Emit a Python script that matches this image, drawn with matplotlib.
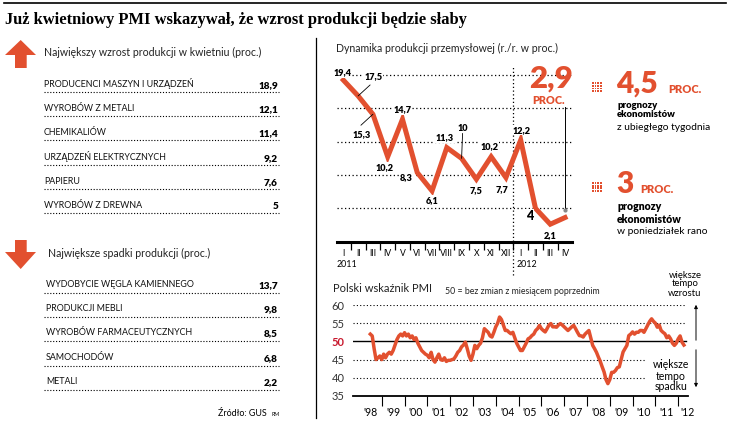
import numpy as np
import matplotlib
matplotlib.use('Agg')
import matplotlib.pyplot as plt
from matplotlib.lines import Line2D
from matplotlib.patches import Polygon, Rectangle, FancyArrowPatch

plt.rcParams['font.family'] = ['Lato', 'DejaVu Sans']

RED = '#e2502f'
DARK_RED = '#c8192e'
W, H = 730, 426

# --- data -------------------------------------------------------------
growth_labels = ['PRODUCENCI MASZYN I URZĄDZEŃ', 'WYROBÓW Z METALI', 'CHEMIKALIÓW',
                 'URZĄDZEŃ ELEKTRYCZNYCH', 'PAPIERU', 'WYROBÓW Z DREWNA']
growth_values = ['18,9', '12,1', '11,4', '9,2', '7,6', '5']

decline_labels = ['WYDOBYCIE WĘGLA KAMIENNEGO', 'PRODUKCJI MEBLI',
                  'WYROBÓW FARMACEUTYCZNYCH', 'SAMOCHODÓW', 'METALI']
decline_values = ['13,7', '9,8', '8,5', '6,8', '2,2']

months = ['I', 'II', 'III', 'IV', 'V', 'VI', 'VII', 'VIII', 'IX', 'X', 'XI', 'XII',
          'I', 'II', 'III', 'IV']
production = [19.4, 17.5, 15.3, 10.2, 14.7, 8.3, 6.1, 11.3, 10.0, 7.5, 10.2, 7.7,
              12.2, 4.0, 2.1, 2.9]
production_labels = ['19,4', '17,5', '15,3', '10,2', '14,7', '8,3', '6,1', '11,3',
                     '10', '7,5', '10,2', '7,7', '12,2', '4', '2,1', None]

forecast_values = ['4,5', '3']
forecast_notes = ['z ubiegłego tygodnia', 'w poniedziałek rano']

# monthly PMI, July 1998 - April 2012
pmi = [
    52.0, 51.5, 48.0, 45.0, 45.5, 46.0,                                # 1998
    45.0, 46.5, 45.5, 46.5, 47.0, 46.5, 47.5, 49.0, 50.5, 51.5, 52.0, 51.5,  # 1999
    52.4, 51.5, 52.0, 51.0, 51.5, 50.5, 51.0, 49.5, 48.5, 47.5, 47.0, 46.5,  # 2000
    46.2, 45.5, 47.0, 45.0, 44.3, 45.5, 46.5, 45.0, 44.8, 45.5, 44.5, 44.8,  # 2001
    44.8, 45.0, 45.2, 46.0, 47.0, 47.5, 48.5, 49.0, 49.8, 48.0, 46.0, 44.8,  # 2002
    46.5, 48.9, 48.0, 48.9, 49.5, 51.0, 53.5, 53.0, 52.5, 51.5, 51.2, 52.5,  # 2003
    54.0, 55.0, 56.7, 56.0, 54.5, 53.0, 53.0, 52.5, 52.1, 52.5, 51.0, 49.5,  # 2004
    48.5, 47.5, 47.5, 48.5, 49.5, 50.7, 51.0, 51.6, 52.0, 53.0, 53.5, 54.4,  # 2005
    53.5, 53.0, 52.6, 53.5, 54.5, 54.9, 54.0, 54.0, 53.9, 54.5, 54.9, 54.5,  # 2006
    54.0, 53.5, 53.0, 53.5, 54.0, 54.4, 53.5, 52.5, 51.6, 51.5, 51.2, 52.0,  # 2007
    52.5, 53.0, 51.0, 48.9, 48.0, 47.0, 45.7, 44.5, 43.0, 41.6, 39.5, 38.4,  # 2008
    39.5, 41.5, 41.5, 42.0, 42.8, 43.0, 45.0, 47.1, 48.0, 48.9, 51.6, 52.0,  # 2009
    52.6, 52.0, 52.5, 52.5, 53.0, 53.0, 52.5, 53.5, 54.5, 55.5, 56.2, 55.5,  # 2010
    55.0, 53.9, 54.5, 53.0, 52.5, 52.1, 51.0, 51.5, 50.7, 49.5, 48.9, 49.5,  # 2011
    50.7, 51.5, 49.8, 49.0,                                            # 2012
]
pmi_start = 1998.5
pmi_years = ["'98", "'99", "'00", "'01", "'02", "'03", "'04", "'05", "'06",
             "'07", "'08", "'09", "'10", "'11", "'12"]


def fxy(x, y):
    return x / W, 1 - y / H


def ftext(x, y, s, **kw):
    fig.text(x / W, 1 - y / H, s, **kw)


def fline(xs, ys, **kw):
    fig.add_artist(Line2D([x / W for x in xs], [1 - y / H for y in ys],
                          transform=fig.transFigure, **kw))


def fpoly(pts, **kw):
    fig.add_artist(Polygon([fxy(x, y) for x, y in pts], closed=True,
                           transform=fig.transFigure, **kw))


fig = plt.figure(figsize=(7.3, 4.26), dpi=100)

# --- header -----------------------------------------------------------
fline([4, 726], [3, 3], color='black', lw=1.2)
ftext(5, 20, 'Już kwietniowy PMI wskazywał, że wzrost produkcji będzie słaby',
      family=['Liberation Serif', 'DejaVu Serif'], weight='bold', fontsize=11.9,
      va='center', ha='left')
fline([316, 316], [38, 418], color='black', lw=0.9)

# --- left panel -------------------------------------------------------
fpoly([(5, 55), (20.7, 40), (36, 55), (26.7, 55), (26.7, 68), (15, 68), (15, 55)],
      color=RED, lw=0)
ftext(44, 52, 'Największy wzrost produkcji w kwietniu (proc.)', fontsize=7.6,
      va='center', color='#222222')
dot = (0, (1, 1.6))
for i, (lab, val) in enumerate(zip(growth_labels, growth_values)):
    yl = 90 + i * 24.2
    ftext(44, yl - 3, lab, fontsize=6.4, va='baseline', color='#111111')
    ftext(278, yl - 2, val, fontsize=7.2, weight='heavy', va='baseline', ha='right')
    fline([44, 279], [yl + 2, yl + 2], color='black', lw=0.8, ls=dot)

fpoly([(15, 240), (26.7, 240), (26.7, 252), (36, 252), (20.7, 269), (5, 252), (15, 252)],
      color=RED, lw=0)
ftext(48, 253, 'Największe spadki produkcji (proc.)', fontsize=7.6,
      va='center', color='#222222')
for i, (lab, val) in enumerate(zip(decline_labels, decline_values)):
    yl = 290 + i * 24.2
    ftext(46, yl - 3, lab, fontsize=6.4, va='baseline', color='#111111')
    ftext(278, yl - 2, val, fontsize=7.2, weight='heavy', va='baseline', ha='right')
    fline([44, 279], [yl + 3, yl + 3], color='black', lw=0.8, ls=dot)

ftext(267, 413, 'Źródło: GUS', fontsize=6.4, ha='right', va='center')
ftext(272, 414, 'RM', fontsize=3.8, ha='left', va='center')

# --- production chart -------------------------------------------------
y0, ppu = 241.7, 8.33
ax1 = fig.add_axes([336.7 / W, 1 - y0 / H, 235 / W, 21 * ppu / H])
x = np.arange(len(production))
ax1.set_xlim(-0.45, 15.45)
ax1.set_ylim(0, 21)
for g in [4, 8, 12, 16, 20]:
    ax1.axhline(g, color='black', lw=0.9, ls=(0, (1, 2)), zorder=1)
ax1.plot([11.5, 11.5], [-4.0, 21], color='black', lw=0.9, ls=(0, (1, 2)),
         clip_on=False, zorder=1)
ax1.plot(x, production, color=RED, lw=3.6, solid_joinstyle='miter', zorder=3)

offsets = [(-1, -8), (15, -19), (-11, 20), (-3, 11), (0, -10), (-11, 5), (0, 10),
           (-2, -10), (1, -30), (0, 11), (-2, -10), (-4, 12), (1, -10), (-6, 8),
           (0, 11), (0, 0)]
for xi, yi, lab, (dx, dy) in zip(x, production, production_labels, offsets):
    if lab is None:
        continue
    big = lab == '4'
    ax1.annotate(lab, (xi, yi), xytext=(dx, -dy), textcoords='offset pixels',
                 ha='center', va='center', fontsize=9 if big else 6.6,
                 weight='heavy', zorder=4,
                 bbox=dict(boxstyle='square,pad=0.1', fc='white', ec='none'))
# leader lines
ax1.annotate('', (1, production[1]), xytext=(12, 11), textcoords='offset pixels',
             arrowprops=dict(arrowstyle='-', lw=0.6, color='black', shrinkA=0, shrinkB=0),
             zorder=5)
ax1.annotate('', (2, production[2]), xytext=(-12, -11), textcoords='offset pixels',
             arrowprops=dict(arrowstyle='-', lw=0.6, color='black', shrinkA=0, shrinkB=0),
             zorder=5)
ax1.annotate('', (8, production[8]), xytext=(1, 25), textcoords='offset pixels',
             arrowprops=dict(arrowstyle='-', lw=0.6, color='black', shrinkA=0, shrinkB=0),
             zorder=5)
# pointer from the big number to the last month
ax1.plot([15, 15], [3.8, 16.2], color='black', lw=0.7, zorder=5)
ax1.plot([15], [3.8], marker='o', ms=2, color='#888888', zorder=5)

ax1.set_yticks([])
ax1.set_xticks(x)
ax1.set_xticklabels(months, fontsize=6.2)
ax1.set_xticks(np.arange(0.5, 15), minor=True)
ax1.tick_params(axis='x', which='major', length=0, pad=5)
ax1.tick_params(axis='x', which='minor', length=6, width=0.9, direction='out')
for s in ['top', 'left', 'right']:
    ax1.spines[s].set_visible(False)
ax1.spines['bottom'].set_linewidth(2.2)
ax1.text(-0.45, -2.7, '2011', fontsize=6.4, ha='left', va='center')
ax1.text(11.7, -2.7, '2012', fontsize=6.4, ha='left', va='center')

ftext(336, 48, 'Dynamika produkcji przemysłowej (r./r. w proc.)', fontsize=7.6,
      va='center', color='#222222')
ftext(551, 79, '2,9', fontsize=22.5, weight='heavy', color=RED, ha='center', va='center')
ftext(549, 101, 'PROC.', fontsize=7.8, weight='heavy', color=RED, ha='center', va='center')

# --- forecasts --------------------------------------------------------
for (fy0, val, note, big) in [(93, forecast_values[0], forecast_notes[0], False),
                              (193, forecast_values[1], forecast_notes[1], True)]:
    for r in range(4):
        for c in range(4):
            fig.add_artist(Rectangle(fxy(592 + c * 2.6, fy0 - 9 + r * 2.6), 1.7 / W, 1.7 / H,
                                     transform=fig.transFigure, color=RED, lw=0))
    fig.text(616 / W, 1 - fy0 / H, val, fontsize=21.5, weight='heavy', color=RED,
             ha='left', va='baseline')
    px = 668 if val == '4,5' else 640
    ftext(px, fy0, 'PROC.', fontsize=8, weight='heavy', color=RED, va='baseline')
    fs = 7.6 if big else 6.8
    gap = 13.5 if big else 8.5
    ftext(617, fy0 + 13, 'prognozy', fontsize=fs, weight='heavy', va='center')
    ftext(617, fy0 + 13 + gap, 'ekonomistów', fontsize=fs, weight='heavy', va='center')
    ftext(617, fy0 + 13 + gap + 12.5, note, fontsize=7.4, va='center')

# --- PMI chart --------------------------------------------------------
ax2 = fig.add_axes([353 / W, 1 - 396 / H, 335 / W, 91 / H])
xl = (1997.74, 2012.43)
ax2.set_xlim(*xl)
ax2.set_ylim(35, 60)
t = pmi_start + np.arange(len(pmi)) / 12
for g in [55, 60]:
    ax2.plot([xl[0], 2012.35], [g, g], color='black', lw=0.8, ls=(0, (1, 2)), zorder=1)
for g in [40, 45]:
    ax2.plot([xl[0], 2010.55], [g, g], color='black', lw=0.8, ls=(0, (1, 2)), zorder=1)
ax2.plot([xl[0], 2012.35], [50, 50], color='black', lw=1.0, zorder=1)
ax2.plot(t, pmi, color=RED, lw=2.5, zorder=3)

ax2.set_yticks([35, 40, 45, 50, 55, 60])
ax2.set_yticklabels(['35', '40', '45', '50', '55', '60'], fontsize=8, color='#333333')
for lbl in ax2.get_yticklabels():
    if lbl.get_text() == '50':
        lbl.set_color(DARK_RED)
        lbl.set_fontweight('bold')
ax2.tick_params(axis='y', length=0, pad=6)
ax2.set_xticks(list(np.arange(1998.5, 2012, 1.0)) + [2012.4])
ax2.set_xticklabels(pmi_years, fontsize=7.6)
ax2.set_xticks(np.arange(1999, 2013, 1.0), minor=True)
ax2.tick_params(axis='x', which='major', length=0, pad=8)
ax2.tick_params(axis='x', which='minor', length=7, width=0.8, direction='out')
for s in ['top', 'left', 'right']:
    ax2.spines[s].set_visible(False)
ax2.spines['bottom'].set_linewidth(1.3)

ftext(333, 289, 'Polski wskaźnik PMI', fontsize=8, va='center', color='#222222')
ftext(445, 291, '50 = bez zmian z miesiącem poprzednim', fontsize=6.3, va='center',
      color='#222222')
for i, s in enumerate(['większe', 'tempo', 'wzrostu']):
    ftext(685, 275 + i * 9, s, fontsize=6.8, ha='center', va='center')
for i, s in enumerate(['większe', 'tempo', 'spadku']):
    ftext(671, 365 + i * 11, s, fontsize=7.6, ha='center', va='center')
fig.add_artist(FancyArrowPatch(fxy(696, 343), fxy(696, 302), transform=fig.transFigure,
                               arrowstyle='-|>', mutation_scale=5, lw=0.7, color='black'))
fig.add_artist(FancyArrowPatch(fxy(696, 347), fxy(696, 390), transform=fig.transFigure,
                               arrowstyle='-|>', mutation_scale=5, lw=0.7, color='black'))

fig.savefig('out.png', dpi=100)
